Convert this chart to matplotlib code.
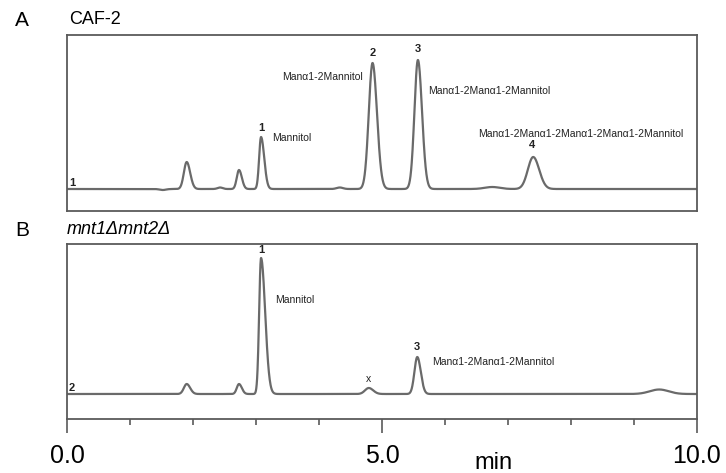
import numpy as np
import matplotlib
matplotlib.use("Agg")
import matplotlib.pyplot as plt

plt.rcParams['font.family'] = ['Liberation Sans', 'DejaVu Sans']

# peak table (retention time in min, height in a.u.)
rt_a = [1.52, 1.90, 2.43, 2.73, 3.08, 4.33, 4.85, 5.57, 6.75, 7.40]
height_a = [-1.0, 27, 1.5, 19, 52, 1.5, 126, 129, 2.0, 32]
sig_left_a = [0.05, 0.045, 0.04, 0.035, 0.030, 0.05, 0.060, 0.055, 0.12, 0.085]
sig_right_a = [0.05, 0.055, 0.04, 0.045, 0.050, 0.05, 0.070, 0.065, 0.12, 0.095]

rt_b = [1.90, 2.73, 3.08, 4.79, 5.56, 9.40]
height_b = [10, 10, 136, 6, 37, 4.5]
sig_left_b = [0.045, 0.035, 0.030, 0.06, 0.045, 0.15]
sig_right_b = [0.055, 0.045, 0.065, 0.07, 0.055, 0.15]

tick_pos = [0, 5, 10]
tick_labels = ["0.0", "5.0", "10.0"]
minor_pos = [1, 2, 3, 4, 6, 7, 8, 9]

MAN = "Man\u03b11-2"
labels_a = [
    # text, x (min), y, ha, bold
    ("1", 3.08, 61, "center", True),
    ("Mannitol", 3.25, 51, "left", False),
    ("2", 4.86, 136, "center", True),
    (MAN + "Mannitol", 4.70, 112, "right", False),
    ("3", 5.57, 140, "center", True),
    (MAN * 2 + "Mannitol", 5.73, 98, "left", False),
    (MAN * 4 + "Mannitol", 8.16, 55, "center", False),
    ("4", 7.38, 44, "center", True),
    ("1", 0.03, 6, "left", True),
]
labels_b = [
    ("1", 3.08, 144, "center", True),
    ("Mannitol", 3.30, 94, "left", False),
    ("x", 4.79, 15, "center", False),
    ("3", 5.56, 47, "center", True),
    (MAN * 2 + "Mannitol", 5.79, 32, "left", False),
    ("2", 0.03, 6, "left", True),
]


def trace(t, rts, hs, sl, sr):
    y = np.zeros_like(t)
    for r, h, a, b in zip(rts, hs, sl, sr):
        s = np.where(t < r, a, b)
        y += h * np.exp(-0.5 * ((t - r) / s) ** 2)
    return y


W, H = 726, 473
fig = plt.figure(figsize=(W / 100, H / 100), dpi=100)


def px_axes(left, top, right, bottom):
    return fig.add_axes([left / W, 1 - bottom / H, (right - left) / W, (bottom - top) / H])


ax_a = px_axes(67, 35, 697, 211)
ax_b = px_axes(67, 244, 697, 419)

t = np.linspace(0, 10, 3000)
line_kw = dict(color='#6a6a6a', lw=1.6, solid_capstyle='round')
ax_a.plot(t, trace(t, rt_a, height_a, sig_left_a, sig_right_a), **line_kw)
ax_b.plot(t, trace(t, rt_b, height_b, sig_left_b, sig_right_b), **line_kw)

ax_a.set_ylim(-22, 154)
ax_b.set_ylim(-25, 150)

for ax, labs in ((ax_a, labels_a), (ax_b, labels_b)):
    ax.set_xlim(0, 10)
    for s in ax.spines.values():
        s.set_color('#5a5a5a')
        s.set_linewidth(1.3)
    ax.set_yticks([])
    for txt, x, y, ha, bold in labs:
        ax.text(x, y, txt, ha=ha, va='center', fontsize=8 if bold else 7.5,
                fontweight='bold' if bold else 'normal', color='#222222')

ax_a.set_xticks([])

# bottom time axis on panel B
ax_b.set_xticks(tick_pos)
ax_b.set_xticklabels(tick_labels)
ax_b.set_xticks(minor_pos, minor=True)
ax_b.tick_params(axis='x', which='major', direction='out', length=10, width=1.2,
                 color='#5a5a5a', labelsize=18, pad=8)
ax_b.tick_params(axis='x', which='minor', direction='out', length=4.5, width=1.2,
                 color='#5a5a5a')

fig.text(494 / W, 1 - 463 / H, "min", ha='center', va='center', fontsize=17)

fig.text(22 / W, 1 - 20 / H, "A", ha='center', va='center', fontsize=15)
fig.text(69 / W, 1 - 20 / H, "CAF-2", ha='left', va='center', fontsize=13)
fig.text(22 / W, 1 - 230 / H, "B", ha='center', va='center', fontsize=15)
fig.text(67 / W, 1 - 230 / H, "mnt1\u0394mnt2\u0394", ha='left', va='center',
         fontsize=13, style='italic')

fig.savefig("out.png", dpi=100)
